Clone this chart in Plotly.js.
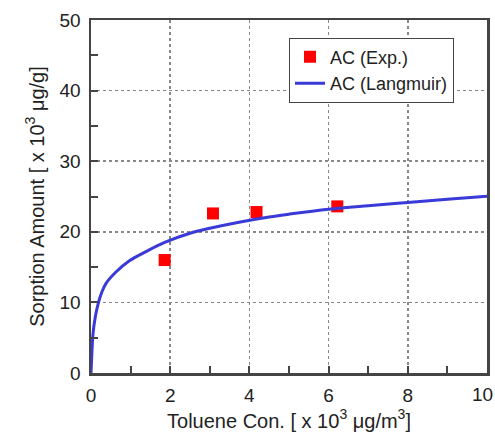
<!DOCTYPE html>
<html>
<head>
<meta charset="utf-8">
<script src="https://cdn.plot.ly/plotly-3.0.1.min.js"></script>
<style>html,body{margin:0;padding:0;background:#fff;}#chart{width:495px;height:439px;}</style>
</head>
<body>
<div id="chart"></div>
<script>
// Experimental points
const expConc = [1.86, 3.08, 4.18, 6.22];
const expAmount = [16.0, 22.6, 22.8, 23.6];
// Langmuir fit curve
const fitConc = [0, 0.02, 0.05, 0.11, 0.19, 0.27, 0.38, 0.63, 0.97, 1.39, 1.86, 2.5, 3.0, 3.77, 4.5, 5.0, 6.0, 7.0, 8.0, 9.0, 10.0];
const fitAmount = [0, 2.5, 5.5, 8.0, 10.0, 11.4, 12.7, 14.3, 15.9, 17.2, 18.5, 19.8, 20.5, 21.4, 22.1, 22.5, 23.2, 23.7, 24.15, 24.6, 25.05];
const xTicks = [0, 2, 4, 6, 8, 10];
const xTickText = ['0', '2', '4', '6', '8', '10'];
const yTicks = [0, 10, 20, 30, 40, 50];

const font = "Arial, 'Liberation Sans', sans-serif";
const traces = [
  {x: expConc, y: expAmount, type: 'scatter', mode: 'markers', name: 'AC (Exp.)',
   marker: {symbol: 'square', size: 12, color: '#ff0000'}},
  {x: fitConc, y: fitAmount, type: 'scatter', mode: 'lines', name: 'AC (Langmuir)',
   line: {color: '#3a3ad8', width: 3, shape: 'spline', smoothing: 1}}
];
const lastIdx = xTicks.length - 1;
const axisCommon = {
  showline: true, mirror: true, linecolor: '#444', linewidth: 2.5,
  ticks: 'inside', ticklen: 7, tickwidth: 2, tickcolor: '#444',
  showgrid: true, gridcolor: '#888', griddash: 'dot', gridwidth: 1.5,
  zeroline: false,
  tickfont: {family: font, size: 19, color: '#222'}
};
const layout = {
  width: 495, height: 439,
  margin: {l: 91, r: 8, t: 20, b: 66},
  paper_bgcolor: '#fff', plot_bgcolor: '#fff',
  showlegend: true,
  legend: {x: 0.5, y: 0.95, xanchor: 'left', yanchor: 'top',
    bordercolor: '#444', borderwidth: 1, bgcolor: '#fff',
    font: {family: font, size: 18, color: '#222'}, tracegroupgap: 2},
  xaxis: Object.assign({}, axisCommon, {
    range: [0, 10], tickvals: xTicks,
    // last label drawn as annotation so it stays inside the page edge
    ticktext: xTickText.map((t, i) => i === lastIdx ? '' : t),
    ticklabelstandoff: 4,
    minor: {dtick: 1, ticks: 'inside', ticklen: 7, tickwidth: 2, tickcolor: '#444', showgrid: false},
    title: {text: 'Toluene Con. [ x 10<sup>3</sup> μg/m<sup>3</sup>]', font: {family: font, size: 20, color: '#222'}, standoff: 8}
  }),
  yaxis: Object.assign({}, axisCommon, {
    range: [0, 50], tickvals: yTicks, ticktext: yTicks.map(String),
    ticklabelstandoff: 4,
    minor: {dtick: 5, ticks: 'inside', ticklen: 7, tickwidth: 2, tickcolor: '#444', showgrid: false},
    title: {text: 'Sorption Amount [ x 10<sup>3</sup> μg/g]', font: {family: font, size: 20, color: '#222'}, standoff: 10}
  }),
  annotations: [{
    x: xTicks[lastIdx], xref: 'x', y: 0, yref: 'paper',
    xanchor: 'center', yanchor: 'top', xshift: -5, yshift: -9,
    text: xTickText[lastIdx], showarrow: false,
    font: {family: font, size: 19, color: '#222'}
  }]
};
Plotly.newPlot('chart', traces, layout, {displayModeBar: false, staticPlot: true});
</script>
</body>
</html>
